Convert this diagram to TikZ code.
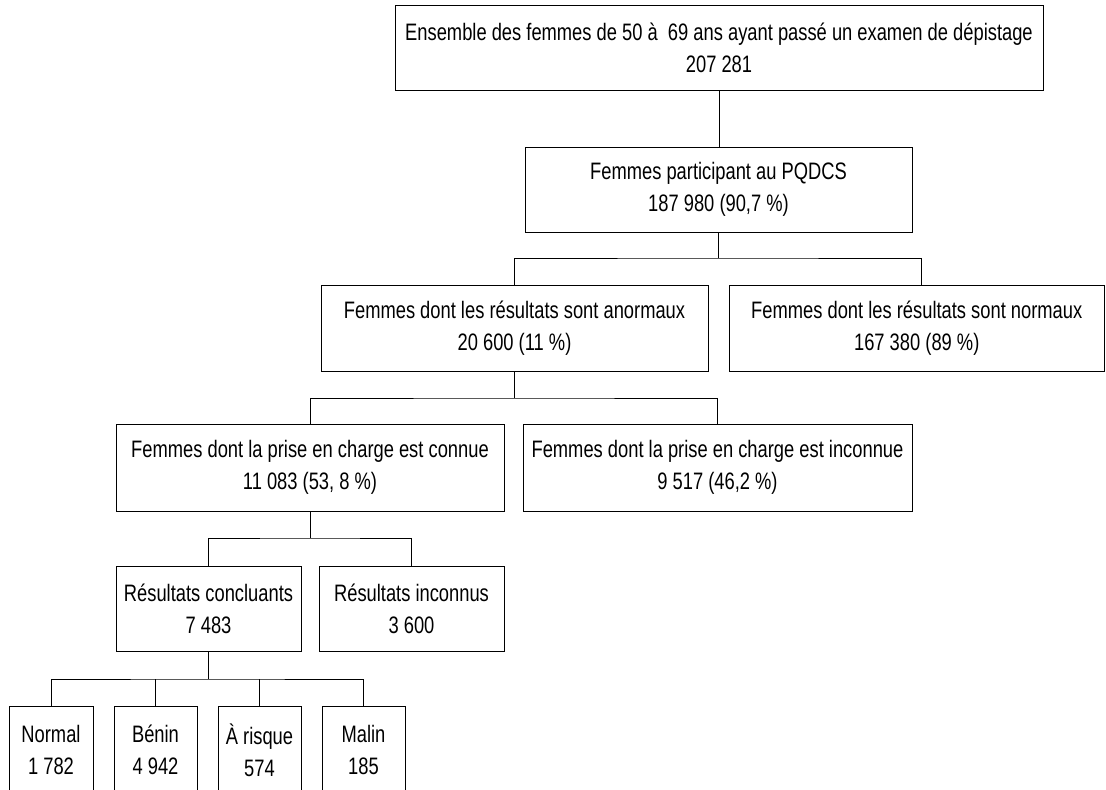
\documentclass[tikz,border=0pt]{standalone}
\usepackage{fontspec}
\setmainfont[FakeStretch=0.77]{Liberation Sans}
\begin{document}
\begin{tikzpicture}[x=1pt,y=-1pt,
  box/.style={draw, line width=0.8pt, rectangle, inner sep=0pt, align=center,
    font=\fontsize{23.8}{32}\selectfont},
  conn/.style={line width=0.8pt}]
\clip (0,0) rectangle (1106,790);
\fill[white] (0,0) rectangle (1106,790);
% level 1-2
\node[box, minimum width=648pt, minimum height=85pt] (n1) at (719,47.5)
  {Ensemble des femmes de 50 à~ 69 ans ayant passé un examen de dépistage\\207 281};
\node[box, minimum width=387pt, minimum height=85pt] (n2) at (718.5,189.5)
  {Femmes participant au PQDCS\\187 980 (90,7 \%)};
% level 3
\node[box, minimum width=387pt, minimum height=86pt] (n3) at (514.5,328)
  {Femmes dont les résultats sont anormaux\\20 600 (11 \%)};
\node[box, minimum width=375.5pt, minimum height=86pt] (n4) at (916.75,328)
  {Femmes dont les résultats sont normaux\\167 380 (89 \%)};
% level 4
\node[box, minimum width=388pt, minimum height=87pt] (n5) at (310,467.5)
  {Femmes dont la prise en charge est connue\\11 083 (53, 8 \%)};
\node[box, minimum width=389pt, minimum height=87pt] (n6) at (717.5,467.5)
  {Femmes dont la prise en charge est inconnue\\9 517 (46,2 \%)};
% level 5
\node[box, minimum width=185pt, minimum height=85pt] (n7) at (208.5,608.5)
  {Résultats concluants\\7 483};
\node[box, minimum width=185pt, minimum height=85pt] (n8) at (411.5,608.5)
  {Résultats inconnus\\3 600};
% level 6
\node[box, minimum width=84pt, minimum height=88pt] (m1) at (51,750) {Normal\\1 782};
\node[box, minimum width=83pt, minimum height=88pt] (m2) at (155.5,750) {Bénin\\4 942};
\node[box, minimum width=83pt, minimum height=88pt] (m3) at (259.5,750) {À risque\\574};
\node[box, minimum width=83pt, minimum height=88pt] (m4) at (363.5,750) {Malin\\185};
% buses
\coordinate (b1) at (718,258);
\coordinate (b2) at (514,398);
\coordinate (b3) at (310,538);
\coordinate (b4) at (208,679);
% connectors
\draw[conn] (n1.south) -- (n1.south |- n2.north);
\draw[conn] (n2.south) -- (n2.south |- b1);
\draw[conn] (n3.north) |- (b1) -| ([xshift=5pt]n4.north);
\draw[conn] (n3.south) -- (n3.south |- b2);
\draw[conn] (n5.north) |- (b2) -| (n6.north);
\draw[conn] (n5.south) -- (n5.south |- b3);
\draw[conn] (n7.north) |- (b3) -| (n8.north);
\draw[conn] (n7.south) -- (n7.south |- b4);
\draw[conn] (m1.north) |- (b4) -| (m4.north);
\draw[conn] (m2.north) -- (m2.north |- b4);
\draw[conn] (m3.north) -- (m3.north |- b4);
\end{tikzpicture}
\end{document}
